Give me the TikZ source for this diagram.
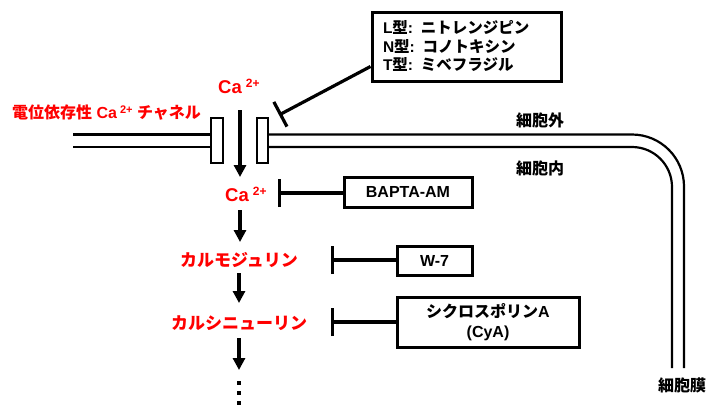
\documentclass[tikz,border=0pt]{standalone}
\usepackage{fontspec}
\setmainfont{Liberation Sans}
\newfontfamily\jp{Noto Sans CJK JP}
\usetikzlibrary{arrows.meta}
\begin{document}
\begin{tikzpicture}[x=1pt,y=-1pt,
  font=\bfseries,
  arr/.style={line width=3.2pt,-{Triangle[width=12pt,length=12pt]}},
  inh/.style={line width=3.2pt,-{Bar[width=28pt]}},
  box/.style={draw,line width=3pt,fill=white,inner sep=0pt,align=center},
  mem/.style={line width=2.2pt},
  lbl/.style={inner sep=0pt},
  redlbl/.style={inner sep=0pt,text=red}]
\useasboundingbox (0,0) rectangle (708,407);

% membrane
\draw[mem] (73,134.5) -- (211,134.5);
\draw[mem] (73,147) -- (211,147);
\draw[mem,rounded corners=52pt] (268,134.5) -- (684,134.5) -- (684,368);
\draw[mem,rounded corners=40pt] (268,147) -- (672,147) -- (672,368);
% channel
\draw[mem,fill=white] (211,118) rectangle (223,163);
\draw[mem,fill=white] (257,118) rectangle (268,163);

% labels
\node[redlbl,anchor=base west] (chan) at (12,118)
  {\fontsize{16}{18}\selectfont{\jp 電位依存性} Ca\hspace{3pt}\raisebox{5pt}{\fontsize{11}{11}\selectfont 2+} {\jp チャネル}};
\node[redlbl,anchor=base west] (ca1) at (218,93.5)
  {\fontsize{18.5}{20}\selectfont Ca\hspace{4pt}\raisebox{6pt}{\fontsize{12}{12}\selectfont 2+}};
\node[redlbl,anchor=base west] (ca2) at (225,201.5)
  {\fontsize{18.5}{20}\selectfont Ca\hspace{4pt}\raisebox{6pt}{\fontsize{12}{12}\selectfont 2+}};
\node[redlbl] (cam) at (239,260) {\fontsize{17}{18}\selectfont\jp カルモジュリン};
\node[redlbl] (can) at (239,323) {\fontsize{17}{18}\selectfont\jp カルシニューリン};

\node[lbl] (out) at (540,120) {\fontsize{16}{18}\selectfont\jp 細胞外};
\node[lbl] (in) at (540,168) {\fontsize{16}{18}\selectfont\jp 細胞内};
\node[lbl] (memb) at (682,385) {\fontsize{16}{18}\selectfont\jp 細胞膜};

% boxes
\node[box,minimum width=189pt,minimum height=69pt,text width=167pt,align=left,
  font=\bfseries\fontsize{15.5}{18.5}\selectfont] (blk) at (466.5,46.5)
  {L{\jp 型}: {\jp ニトレンジピン}\\N{\jp 型}: {\jp コノトキシン}\\T{\jp 型}: {\jp ミベフラジル}};
\node[box,minimum width=128pt,minimum height=30pt,font=\bfseries\fontsize{16}{18}\selectfont] (bapta) at (408,192)
  {BAPTA-AM};
\node[box,minimum width=75pt,minimum height=29pt,font=\bfseries\fontsize{16}{18}\selectfont] (w7) at (434.5,260.5)
  {W-7};
\node[box,minimum width=182pt,minimum height=50pt,font=\bfseries\fontsize{16}{20}\selectfont] (cya) at (488,322)
  {{\jp シクロスポリン}A\\(CyA)};

% inhibition
\coordinate (t0) at (279,115);
\coordinate (t1) at (278,193);
\coordinate (t2) at (331,260);
\coordinate (t3) at (331,322);
\draw[inh] ([yshift=-20pt]blk.west) -- (t0);
\draw[inh] (bapta.west |- t1) -- (t1);
\draw[inh] (w7.west |- t2) -- (t2);
\draw[inh] (cya.west |- t3) -- (t3);

% arrows
\coordinate (a1s) at (240,110);
\coordinate (a2s) at (240,210);
\coordinate (a3s) at (239,273);
\coordinate (a4s) at (239,338);
\coordinate (a4e) at (239,370);
\draw[arr] (a1s) -- (240,177);
\draw[arr] (a2s) -- (240,242);
\draw[arr] (a3s) -- (239,303);
\draw[arr] (a4s) -- (a4e);

% dots
\foreach \yy in {383,393,403} \fill (237.3,\yy-2) rectangle (240.7,\yy+2);
\end{tikzpicture}
\end{document}
